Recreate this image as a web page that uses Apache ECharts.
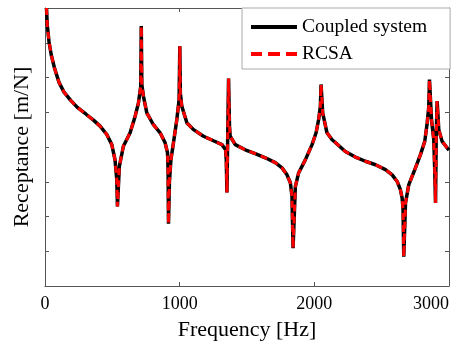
<!DOCTYPE html>
<html>
<head>
<meta charset="utf-8">
<script src="https://cdn.jsdelivr.net/npm/echarts@6/dist/echarts.min.js"></script>
<style>
html,body{margin:0;padding:0;background:#fff;}
#chart{width:464px;height:347px;}
</style>
</head>
<body>
<div id="chart"></div>
<script>
// Frequency [Hz]
const frequency = [11, 17, 30, 47, 72, 104, 141, 191, 240, 303, 364, 409, 459, 496, 520, 533, 538, 552, 582, 632, 669, 694, 711, 715, 719, 731, 756, 805, 855, 892, 910, 914, 917, 924, 935, 954, 979, 996, 1001, 1005, 1016, 1054, 1103, 1177, 1251, 1314, 1341, 1346, 1351, 1363, 1370, 1375, 1413, 1487, 1561, 1636, 1710, 1760, 1797, 1822, 1834, 1842, 1859, 1883, 1933, 1983, 2013, 2032, 2045, 2050, 2062, 2094, 2132, 2156, 2230, 2305, 2379, 2454, 2528, 2578, 2615, 2639, 2652, 2659, 2664, 2677, 2701, 2751, 2788, 2820, 2838, 2850, 2855, 2870, 2887, 2894, 2900, 2905, 2912, 2924, 2949, 2987, 3000];
// Receptance [m/N] of the coupled system
const coupledValues = [1.0e-4, 3.16e-5, 1.05e-5, 4.37e-6, 1.78e-6, 7.24e-7, 3.80e-7, 2.19e-7, 1.38e-7, 8.91e-8, 5.75e-8, 3.98e-8, 2.29e-8, 1.17e-8, 4.27e-9, 1.15e-9, 1.95e-10, 2.75e-9, 1.05e-8, 2.57e-8, 7.59e-8, 1.86e-7, 5.62e-7, 3.02e-5, 6.31e-7, 2.88e-7, 9.55e-8, 4.37e-8, 2.57e-8, 1.32e-8, 6.76e-9, 2.24e-9, 6.17e-11, 1.0e-9, 4.27e-9, 1.32e-8, 6.17e-8, 2.34e-7, 7.94e-6, 3.55e-7, 1.48e-7, 4.90e-8, 3.16e-8, 2.04e-8, 1.51e-8, 1.17e-8, 8.32e-9, 4.27e-9, 4.90e-10, 9.33e-7, 3.98e-8, 2.04e-8, 1.17e-8, 8.32e-9, 6.46e-9, 4.90e-9, 3.55e-9, 2.51e-9, 1.58e-9, 9.33e-10, 3.80e-10, 1.23e-11, 7.24e-10, 1.78e-9, 4.27e-9, 1.17e-8, 2.57e-8, 6.17e-8, 1.48e-7, 6.31e-7, 9.55e-8, 2.57e-8, 1.62e-8, 1.35e-8, 7.41e-9, 5.13e-9, 3.89e-9, 3.09e-9, 2.24e-9, 1.58e-9, 1.02e-9, 5.89e-10, 3.39e-10, 1.55e-10, 6.92e-12, 2.45e-10, 8.13e-10, 2.51e-9, 6.03e-9, 1.45e-8, 4.90e-8, 1.48e-7, 8.71e-7, 6.17e-8, 1.62e-8, 2.24e-9, 2.45e-10, 2.04e-8, 2.09e-7, 3.16e-8, 1.45e-8, 9.33e-9, 8.13e-9];
// Receptance [m/N] predicted by RCSA (overlaps the coupled system)
const rcsaValues = [1.0e-4, 3.16e-5, 1.05e-5, 4.37e-6, 1.78e-6, 7.24e-7, 3.80e-7, 2.19e-7, 1.38e-7, 8.91e-8, 5.75e-8, 3.98e-8, 2.29e-8, 1.17e-8, 4.27e-9, 1.15e-9, 1.95e-10, 2.75e-9, 1.05e-8, 2.57e-8, 7.59e-8, 1.86e-7, 5.62e-7, 3.02e-5, 6.31e-7, 2.88e-7, 9.55e-8, 4.37e-8, 2.57e-8, 1.32e-8, 6.76e-9, 2.24e-9, 6.17e-11, 1.0e-9, 4.27e-9, 1.32e-8, 6.17e-8, 2.34e-7, 7.94e-6, 3.55e-7, 1.48e-7, 4.90e-8, 3.16e-8, 2.04e-8, 1.51e-8, 1.17e-8, 8.32e-9, 4.27e-9, 4.90e-10, 9.33e-7, 3.98e-8, 2.04e-8, 1.17e-8, 8.32e-9, 6.46e-9, 4.90e-9, 3.55e-9, 2.51e-9, 1.58e-9, 9.33e-10, 3.80e-10, 1.23e-11, 7.24e-10, 1.78e-9, 4.27e-9, 1.17e-8, 2.57e-8, 6.17e-8, 1.48e-7, 6.31e-7, 9.55e-8, 2.57e-8, 1.62e-8, 1.35e-8, 7.41e-9, 5.13e-9, 3.89e-9, 3.09e-9, 2.24e-9, 1.58e-9, 1.02e-9, 5.89e-10, 3.39e-10, 1.55e-10, 6.92e-12, 2.45e-10, 8.13e-10, 2.51e-9, 6.03e-9, 1.45e-8, 4.90e-8, 1.48e-7, 8.71e-7, 6.17e-8, 1.62e-8, 2.24e-9, 2.45e-10, 2.04e-8, 2.09e-7, 3.16e-8, 1.45e-8, 9.33e-9, 8.13e-9];
const seriesNames = ['Coupled system', 'RCSA'];
const xTickLabels = ['0', '1000', '2000', '3000'];

const FONT = 'Liberation Serif';
const AXIS_COLOR = '#555';

const chart = echarts.init(document.getElementById('chart'), null, {renderer: 'canvas'});
const pairs = (xs, ys) => xs.map((x, i) => [x, ys[i]]);

const tickStyle = {show: true, inside: true, length: 4, lineStyle: {color: AXIS_COLOR, width: 1}};
const lineAx = {show: true, onZero: false, lineStyle: {color: AXIS_COLOR, width: 1}};

chart.setOption({
  animation: false,
  backgroundColor: '#fff',
  grid: {left: 45, right: 15, top: 8, bottom: 61, containLabel: false},
  legend: {
    show: true,
    orient: 'vertical',
    left: 242, top: 8,
    padding: [9, 23, 5, 9],
    itemWidth: 46, itemHeight: 14, itemGap: 7,
    backgroundColor: '#fff',
    borderColor: '#aaa', borderWidth: 1,
    textStyle: {fontFamily: FONT, fontSize: 19.5, color: '#000'},
    data: [
      {name: seriesNames[0], icon: 'path://M0,0h46v4h-46z',
        itemStyle: {color: '#000', borderWidth: 0}},
      {name: seriesNames[1], icon: 'path://M0,0h11v4h-11z M17,0h12v4h-12z M35,0h11v4h-11z',
        itemStyle: {color: '#f00', borderWidth: 0}}
    ]
  },
  xAxis: [{
    type: 'value', min: 0, max: 3000, interval: 1000, position: 'bottom',
    name: 'Frequency [Hz]', nameLocation: 'middle', nameGap: 33,
    nameTextStyle: {fontFamily: FONT, fontSize: 22, color: '#000'},
    axisLine: lineAx, axisTick: tickStyle, splitLine: {show: false},
    axisLabel: {fontFamily: FONT, fontSize: 18, color: '#000', margin: 9, alignMaxLabel: 'right',
      formatter: v => xTickLabels[Math.round(v / 1000)]}
  }, {
    type: 'value', min: 0, max: 3000, interval: 1000, position: 'top',
    axisLine: lineAx, axisTick: tickStyle, splitLine: {show: false}, axisLabel: {show: false}
  }],
  yAxis: [{
    type: 'log', logBase: 10, min: 1e-12, max: 1e-4, splitNumber: 8, position: 'left',
    name: 'Receptance [m/N]', nameLocation: 'middle', nameGap: 12, nameRotate: 90,
    nameTextStyle: {fontFamily: FONT, fontSize: 22, color: '#000'},
    axisLine: lineAx, axisTick: tickStyle, splitLine: {show: false}, axisLabel: {show: false}
  }, {
    type: 'log', logBase: 10, min: 1e-12, max: 1e-4, splitNumber: 8, position: 'right',
    axisLine: lineAx, axisTick: tickStyle, splitLine: {show: false}, axisLabel: {show: false}
  }],
  series: [{
    name: seriesNames[0], type: 'line', xAxisIndex: 0, yAxisIndex: 0,
    data: pairs(frequency, coupledValues), showSymbol: false, symbol: 'none',
    lineStyle: {color: '#000', width: 3.5}, itemStyle: {color: '#000'}
  }, {
    name: seriesNames[1], type: 'line', xAxisIndex: 0, yAxisIndex: 0,
    data: pairs(frequency, rcsaValues), showSymbol: false, symbol: 'none',
    lineStyle: {color: '#f00', width: 3, type: [7, 5]}, itemStyle: {color: '#f00'}
  }]
});
</script>
</body>
</html>
